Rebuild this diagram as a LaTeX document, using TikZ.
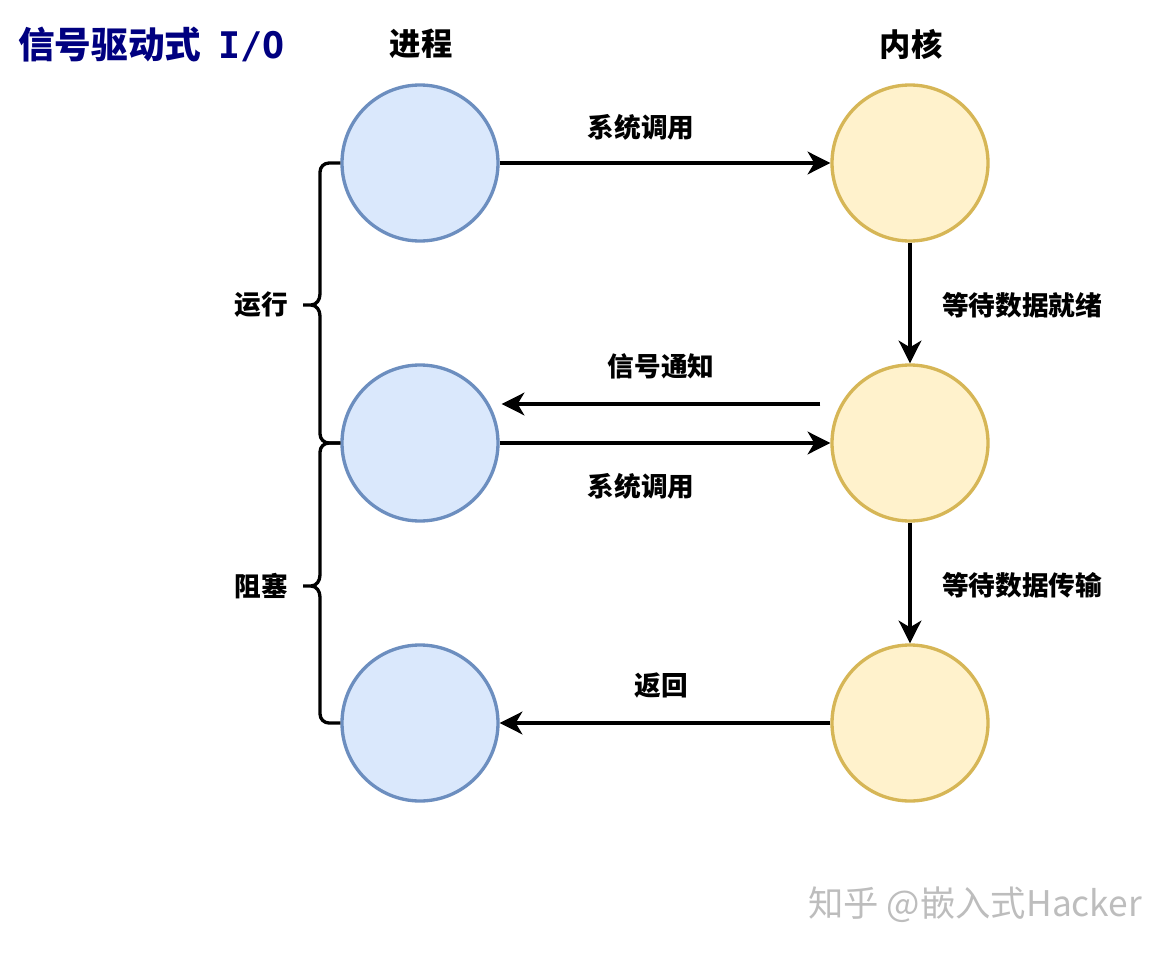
\documentclass[tikz,border=0pt]{standalone}
\usepackage{fontspec}
\setmainfont{Noto Sans CJK SC}
\newfontfamily\monob{DejaVu Sans Mono}
\usetikzlibrary{arrows.meta,calc}
\definecolor{procfill}{HTML}{DAE8FC}
\definecolor{procline}{HTML}{6C8EBF}
\definecolor{kernfill}{HTML}{FFF2CC}
\definecolor{kernline}{HTML}{D6B656}
\definecolor{titleblue}{HTML}{000080}
\definecolor{markgray}{HTML}{BDBDBD}
\begin{document}
\begin{tikzpicture}[x=0.75pt,y=-0.75pt,
  proc/.style={circle,draw=procline,fill=procfill,line width=2.5pt,minimum size=117pt,inner sep=0pt},
  kern/.style={circle,draw=kernline,fill=kernfill,line width=2.5pt,minimum size=117pt,inner sep=0pt},
  flow/.style={line width=2.5pt,-{Stealth[length=17pt,width=17pt,inset=5pt]}},
  brace/.style={line width=2.5pt,line join=round},
  lbl/.style={font=\bfseries\fontsize{20}{23}\selectfont,inner sep=0pt},
  head/.style={font=\bfseries\fontsize{23.5}{27}\selectfont,inner sep=0pt}]
\useasboundingbox (0,0) rectangle (1172,953);

% title and column headings
\node[anchor=west,inner sep=0pt,text=titleblue,font=\bfseries\fontsize{27.5}{31}\selectfont] (title) at (18,45) {信号驱动式\hspace{0.45em}{\monob\bfseries I/O}};
\node[head] (hp) at (421,44) {进程};
\node[head] (hk) at (911,44) {内核};

% process states
\node[proc] (p1) at (420,163) {};
\node[proc] (p2) at (420,443) {};
\node[proc] (p3) at (420,723) {};
% kernel states
\node[kern] (k1) at (910,163) {};
\node[kern] (k2) at (910,443) {};
\node[kern] (k3) at (910,723) {};

% calls and replies
\draw[flow] (p1) -- (k1);
\draw[flow] (k1) -- (k2);
\draw[flow] ($(k2.west)+(-10,-39)$) -- ($(p2.east)+(2,-39)$);
\draw[flow] (p2) -- (k2);
\draw[flow] (k2) -- (k3);
\draw[flow] (k3) -- (p3);

\node[lbl] (l1) at (641,127) {系统调用};
\node[lbl] (l2) at (1022,305) {等待数据就绪};
\node[lbl] (l3) at (661,366) {信号通知};
\node[lbl] (l4) at (641,486) {系统调用};
\node[lbl] (l5) at (1022,585) {等待数据传输};
\node[lbl] (l6) at (661,686) {返回};

% braces grouping the process states
\draw[brace] (p1.west) -- (329,163) to[out=180,in=90] (320,172) -- (320,294)
  to[out=-90,in=0] (311,305) -- (303,305);
\draw[brace] (311,305) to[out=0,in=90] (320,316) -- (320,434)
  to[out=-90,in=180] (329,443) -- (p2.west);
\draw[brace] (p2.west) -- (329,443) to[out=180,in=90] (320,452) -- (320,575)
  to[out=-90,in=0] (311,586) -- (303,586);
\draw[brace] (311,586) to[out=0,in=90] (320,597) -- (320,714)
  to[out=-90,in=180] (329,723) -- (p3.west);

\node[lbl,anchor=east] (run) at (288,305) {运行};
\node[lbl,anchor=east] (blk) at (288,586) {阻塞};

% watermark
\node[anchor=west,inner sep=0pt,text=markgray,font=\fontsize{26.5}{30}\selectfont] (mark) at (808,905) {知乎 @嵌入式Hacker};
\end{tikzpicture}
\end{document}
